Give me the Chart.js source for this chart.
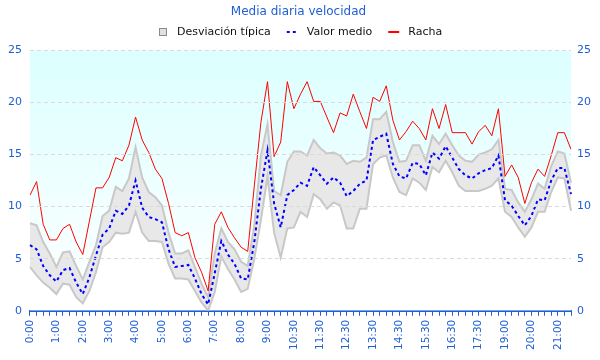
<!doctype html>
<html lang="es">

<head>
    <meta charset="utf-8" />
    <title>Media diaria velocidad</title>
    <script src="https://cdn.jsdelivr.net/npm/chart.js@4.4.1/dist/chart.umd.min.js"></script>
    <style>
        html, body {
            margin: 0;
            padding: 0;
            background: #ffffff;
        }

        .container {
            width: 600px;
            height: 360px;
        }
    </style>
</head>

<body>
    <div class="container">
        <canvas id="myChart" width="600" height="360"></canvas>
    </div>

    <script>
        // horas (una etiqueta cada 4 muestras en el eje)
        const horas = [
            "0:00", "0:15", "0:30", "0:45", "1:00", "1:15", "1:30", "1:45",
            "2:00", "2:15", "2:30", "2:45", "3:00", "3:15", "3:30", "3:45",
            "4:00", "4:15", "4:30", "4:45", "5:00", "5:15", "5:30", "5:45",
            "6:00", "6:15", "6:30", "6:45", "7:00", "7:15", "7:30", "7:45",
            "8:00", "8:15", "8:30", "8:45", "9:00", "9:15", "9:30", "10:00",
            "10:30", "10:45", "11:00", "11:15", "11:30", "11:45", "12:00", "12:15",
            "12:30", "12:45", "13:00", "13:15", "13:30", "13:45", "14:00", "14:15",
            "14:30", "14:45", "15:00", "15:15", "15:30", "15:45", "16:00", "16:15",
            "16:30", "16:45", "17:00", "17:15", "17:30", "17:45", "18:15", "18:45",
            "19:00", "19:15", "19:30", "19:45", "20:00", "20:15", "20:30", "20:45",
            "21:00", "21:15", "21:30"
        ];

        const racha = [
            11.1, 12.4, 8.3, 6.8, 6.8, 7.9, 8.3, 6.6, 5.4, 8.6,
            11.8, 11.8, 12.8, 14.7, 14.4, 15.9, 18.6, 16.4, 15.2, 13.6,
            12.7, 10.3, 7.5, 7.2, 7.5, 5.1, 3.7, 1.9, 8.3, 9.5,
            8.0, 7.0, 6.1, 5.7, 12.0, 18.1, 22.0, 14.8, 16.2, 22.0,
            19.4, 20.8, 22.0, 20.1, 20.1, 18.6, 17.1, 19.0, 18.7, 20.8,
            19.1, 17.5, 20.5, 20.1, 21.6, 18.3, 16.4, 17.2, 18.2, 17.5,
            16.4, 19.4, 17.5, 19.8, 17.1, 17.1, 17.1, 16.0, 17.2, 17.8,
            16.8, 19.4, 12.9, 14.0, 12.8, 10.3, 12.3, 13.6, 12.9, 14.9,
            17.1, 17.1, 15.5
        ];

        const valorMedio = [
            6.3, 5.9, 4.3, 3.4, 2.8, 3.9, 4.1, 2.7, 1.6, 3.2,
            5.3, 7.3, 7.9, 9.6, 9.3, 10.1, 12.5, 9.9, 9.0, 8.8,
            8.5, 5.9, 4.2, 4.3, 4.4, 3.1, 1.6, 0.6, 3.6, 6.7,
            5.4, 4.5, 3.1, 3.0, 6.6, 11.7, 15.4, 10.3, 8.0, 11.1,
            11.6, 12.3, 12.0, 13.8, 13.0, 12.2, 12.8, 12.3, 11.0, 11.5,
            12.2, 12.5, 16.4, 16.7, 17.0, 14.1, 12.9, 12.7, 14.2, 14.1,
            13.0, 15.2, 14.6, 15.8, 14.7, 13.6, 13.0, 12.7, 13.2, 13.5,
            13.7, 14.9, 10.6, 10.1, 9.1, 8.2, 9.1, 10.7, 10.6, 12.5,
            13.7, 13.7, 11.2
        ];

        // limites de la banda de desviacion tipica
        const desvSup = [
            8.4, 8.2, 6.6, 5.5, 4.2, 5.6, 5.7, 4.3, 3.0, 4.7,
            6.3, 9.1, 9.6, 11.9, 11.5, 12.7, 15.7, 12.8, 11.4, 10.9,
            10.1, 7.5, 5.5, 5.5, 5.8, 4.2, 2.6, 1.3, 5.5, 7.9,
            6.6, 5.9, 4.7, 4.3, 8.2, 14.9, 17.9, 11.5, 11.1, 14.3,
            15.3, 15.3, 14.9, 16.4, 15.6, 15.1, 15.2, 14.9, 14.1, 14.4,
            14.3, 14.7, 18.4, 18.4, 19.1, 16.2, 14.3, 14.4, 15.9, 15.9,
            14.4, 16.8, 16.0, 17.0, 15.9, 14.9, 14.4, 14.3, 15.0, 15.2,
            15.5, 16.4, 11.7, 11.6, 10.4, 9.5, 10.7, 12.2, 11.7, 13.9,
            15.3, 15.1, 12.3
        ];

        const desvInf = [
            4.2, 3.4, 2.7, 2.2, 1.6, 2.6, 2.5, 1.3, 0.7, 1.9,
            3.7, 6.1, 6.6, 7.5, 7.4, 7.5, 9.5, 7.5, 6.7, 6.7,
            6.6, 4.5, 3.1, 3.1, 3.0, 1.9, 0.8, 0.0, 1.8, 5.2,
            4.0, 3.0, 1.8, 2.1, 5.0, 8.7, 12.9, 7.5, 5.1, 7.9,
            8.0, 9.5, 9.0, 11.2, 10.7, 9.8, 10.4, 10.1, 7.9, 7.9,
            9.8, 9.8, 14.1, 14.7, 14.9, 12.8, 11.4, 11.1, 12.7, 12.3,
            11.6, 13.8, 13.3, 14.4, 13.3, 12.0, 11.5, 11.5, 11.5, 11.7,
            12.0, 12.7, 9.5, 9.0, 8.0, 7.1, 8.0, 9.5, 9.5, 11.4,
            12.8, 12.7, 9.6
        ];

        const yMin = 0;
        const yMax = 25;
        const yStep = 5;

        const azul = '#1f5fd6';
        const fuente = '"DejaVu Sans", sans-serif';
        Chart.defaults.font.family = fuente;

        // fondo degradado del area de la grafica
        const fondo = {
            id: 'fondo',
            beforeDraw(chart) {
                const { ctx, chartArea: a } = chart;
                const g = ctx.createLinearGradient(0, a.top, 0, a.bottom);
                g.addColorStop(0, 'rgb(220,255,255)');
                g.addColorStop(1, 'rgb(255,255,255)');
                ctx.save();
                ctx.fillStyle = g;
                ctx.fillRect(a.left, a.top, a.right - a.left, a.bottom - a.top);
                ctx.restore();
            }
        };

        // leyenda dibujada a mano: cuadro para la banda, trazo para las lineas
        const leyenda = {
            id: 'leyenda',
            afterDraw(chart) {
                const ctx = chart.ctx;
                const ds = chart.data.datasets;
                const items = [ds[2], ds[1], ds[0]];
                const symW = 11, gapText = 9, gapItem = 16, y = 32;

                ctx.save();
                ctx.font = '11px ' + fuente;
                let total = 0;
                items.forEach((d, i) => {
                    total += symW + gapText + ctx.measureText(d.label).width;
                    if (i > 0) total += gapItem;
                });
                let x = Math.round((chart.width - total) / 2);

                items.forEach(d => {
                    if (d.fill) {
                        ctx.fillStyle = '#e0e0e0';
                        ctx.strokeStyle = '#8c8c8c';
                        ctx.lineWidth = 1;
                        ctx.fillRect(x + 2.5, y - 3.5, 7, 7);
                        ctx.strokeRect(x + 2.5, y - 3.5, 7, 7);
                    } else {
                        ctx.strokeStyle = d.borderColor;
                        ctx.lineWidth = 2;
                        ctx.setLineDash(d.borderDash || []);
                        ctx.beginPath();
                        ctx.moveTo(x, y);
                        ctx.lineTo(x + symW, y);
                        ctx.stroke();
                        ctx.setLineDash([]);
                    }
                    x += symW + gapText;
                    ctx.fillStyle = '#111111';
                    ctx.textBaseline = 'middle';
                    ctx.fillText(d.label, x, y);
                    x += ctx.measureText(d.label).width + gapItem;
                });
                ctx.restore();
            }
        };

        const ctx = document.getElementById('myChart').getContext('2d');
        const myChart = new Chart(ctx, {
            type: 'line',
            data: {
                labels: horas,
                datasets: [
                    {
                        label: 'Racha',
                        data: racha,
                        borderColor: '#ff0000',
                        borderWidth: 1,
                        pointRadius: 0,
                        fill: false
                    },
                    {
                        label: 'Valor medio',
                        data: valorMedio,
                        borderColor: '#0000ff',
                        borderWidth: 2,
                        borderDash: [3, 3],
                        pointRadius: 0,
                        fill: false
                    },
                    {
                        label: 'Desviación típica',
                        data: desvSup,
                        borderColor: '#c8c8c8',
                        backgroundColor: '#e8e8e8',
                        borderWidth: 2,
                        pointRadius: 0,
                        fill: '+1'
                    },
                    {
                        label: '',
                        data: desvInf,
                        borderColor: '#c8c8c8',
                        backgroundColor: '#ffffff',
                        borderWidth: 2,
                        pointRadius: 0,
                        fill: 'origin'
                    }
                ]
            },
            options: {
                responsive: false,
                animation: false,
                layout: {
                    padding: { left: 0, right: 3, top: 0, bottom: 6 }
                },
                plugins: {
                    filler: { drawTime: 'beforeDatasetsDraw' },
                    tooltip: { enabled: false },
                    legend: { display: false },
                    title: {
                        display: true,
                        text: 'Media diaria velocidad',
                        color: azul,
                        font: { size: 12, weight: 'normal' },
                        padding: { top: 5, bottom: 31 }
                    }
                },
                scales: {
                    x: {
                        offset: false,
                        border: { display: true, color: azul, width: 2 },
                        grid: {
                            display: true,
                            drawOnChartArea: false,
                            drawTicks: true,
                            tickLength: 5,
                            color: azul
                        },
                        ticks: {
                            autoSkip: false,
                            maxRotation: 90,
                            minRotation: 90,
                            padding: 4,
                            color: azul,
                            font: { size: 10.5 },
                            callback: function (val, index) {
                                return index % 4 === 0 ? this.getLabelForValue(val) : '';
                            }
                        }
                    },
                    y: {
                        position: 'left',
                        min: yMin,
                        max: yMax,
                        border: { display: false, dash: [4, 3] },
                        grid: {
                            z: 1,
                            drawTicks: false,
                            color: c => c.tick.value === 0 ? 'rgba(0,0,0,0)' : '#dadada'
                        },
                        ticks: {
                            stepSize: yStep,
                            padding: 8,
                            color: azul,
                            font: { size: 11 }
                        }
                    },
                    y2: {
                        position: 'right',
                        min: yMin,
                        max: yMax,
                        border: { display: false },
                        grid: { drawOnChartArea: false, drawTicks: false },
                        ticks: {
                            stepSize: yStep,
                            padding: 6,
                            color: azul,
                            font: { size: 11 }
                        }
                    }
                }
            },
            plugins: [fondo, leyenda]
        });
    </script>
</body>

</html>
